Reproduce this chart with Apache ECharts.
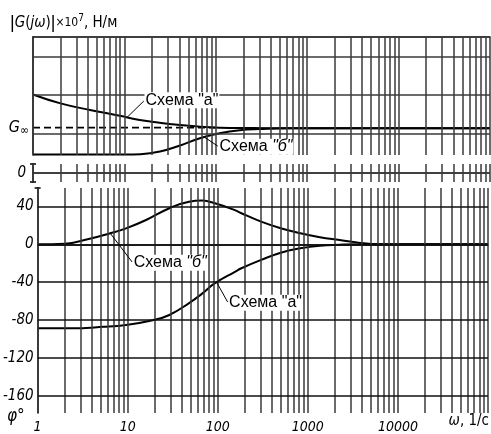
<!DOCTYPE html>
<html>
<head>
<meta charset="utf-8">
<script src="https://cdn.jsdelivr.net/npm/echarts@6/dist/echarts.min.js"></script>
<style>
  html, body { margin: 0; padding: 0; background: #fff; }
  #chart { width: 491px; height: 434px; }
</style>
</head>
<body>
<div id="chart"></div>
<script>
// |G(jw)| (grid units, G_inf ~ 1.165)
const omegaMagA = [1, 2, 4.2, 8.9, 14.7, 31, 67, 110, 250, 600, 100000]
const magA = [2.02, 1.79, 1.62, 1.47, 1.36, 1.26, 1.19, 1.165, 1.155, 1.15, 1.15]
const omegaMagB = [1, 10, 15, 24.5, 40, 67, 110, 183, 303, 600, 100000]
const magB = [0.47, 0.47, 0.48, 0.55, 0.7, 0.89, 1.02, 1.1, 1.13, 1.15, 1.15]
const gInf = 1.165

// phase, degrees
const omegaPhA = [1, 2.35, 5.4, 9.6, 19, 29, 48, 67, 93, 155, 183, 303, 500, 822, 1360, 2250, 4000, 100000]
const phA = [-88.5, -88.5, -87, -85, -80, -74.5, -62, -52, -41, -29, -25.3, -16.5, -8.9, -4.3, -1.5, -0.5, 0, 0]
const omegaPhB = [1, 2, 3.5, 6.4, 9.6, 16, 29, 48, 67, 93, 155, 183, 303, 500, 822, 1360, 2250, 3500, 6000, 100000]
const phB = [0, 0.6, 5, 11.6, 16.8, 25.6, 38, 44.9, 46, 43.2, 36, 32.7, 23.8, 16.8, 11.6, 7.4, 4.5, 2, 0, 0]

const xTicks = [1, 10, 100, 1000, 10000]
const magTicks = [1, 2, 3]
const phaseTicks = [40, 0, -40, -80, -120, -160]

const pairs = (xs, ys) => xs.map((x, i) => [x, ys[i]])

// log grid: 1..9 in every decade
const vLines = []
for (let d = 1; d <= 10000; d *= 10) for (let k = 1; k < 10; k++) vLines.push(k * d)
vLines.push(100000)

const tickFont = '"Liberation Sans Narrow", "DejaVu Sans Condensed", sans-serif'
const textFont = '"Liberation Sans", Arial, sans-serif'
const gridColor = '#3a3a3a'

const vGrid = vLines.map(v => ({ xAxis: v }))
const gridMark = extra => ({
  silent: true,
  symbol: 'none',
  animation: false,
  label: { show: false },
  lineStyle: { color: gridColor, width: 1.5, type: 'solid' },
  data: vGrid.concat(extra),
})

const leader = (from, to, text) => ({
  silent: true,
  symbol: 'none',
  animation: false,
  lineStyle: { color: '#000', width: 1, type: 'solid' },
  label: {
    show: true,
    position: 'end',
    distance: 1,
    align: 'left',
    verticalAlign: 'middle',
    formatter: text,
    color: '#000',
    fontSize: 16,
    fontFamily: textFont,
    backgroundColor: '#fff',
    padding: [0, 1],
    rich: { i: { fontStyle: 'italic', fontSize: 16, fontFamily: textFont, color: '#000' } },
  },
  data: [[{ coord: from }, { coord: to }]],
})

const curve = (xi, data, mark) => ({
  type: 'line',
  xAxisIndex: xi,
  yAxisIndex: xi,
  data: data,
  smooth: 0.45,
  showSymbol: false,
  symbol: 'none',
  z: 3,
  lineStyle: { color: '#000', width: 2 },
  markLine: mark,
})

const xBase = {
  type: 'log',
  logBase: 10,
  min: 1,
  max: 100000,
  splitLine: { show: false },
  axisTick: { show: false },
  axisLabel: { show: false },
  axisLine: { show: false },
}

const yLabel = { color: '#000', fontSize: 15, fontStyle: 'italic', fontFamily: tickFont, margin: 4 }

const chart = echarts.init(document.getElementById('chart'))
chart.setOption({
  animation: false,
  backgroundColor: '#fff',
  grid: [
    { left: 33, right: 1, top: 37, height: 118 },
    { left: 33, right: 1, top: 164, height: 18 },
    { left: 33, right: 1, top: 188, height: 225 },
  ],
  xAxis: [
    { ...xBase, gridIndex: 0, position: 'top', axisLine: { show: true, lineStyle: { color: '#000', width: 1.5 } } },
    { ...xBase, gridIndex: 1 },
    {
      ...xBase,
      gridIndex: 2,
      position: 'bottom',
      axisLine: { show: true, lineStyle: { color: '#000', width: 1.5 } },
      axisLabel: {
        show: true,
        color: '#000',
        fontSize: 14,
        fontStyle: 'italic',
        fontFamily: tickFont,
        margin: 7,
        formatter: v => (xTicks.includes(Math.round(v)) ? String(Math.round(v)) : ''),
      },
    },
  ],
  yAxis: [
    {
      gridIndex: 0, type: 'value', min: 0.46, max: 3.5,
      splitLine: { show: false }, axisTick: { show: false },
      axisLine: { show: true, lineStyle: { color: '#000', width: 1.5 } },
      axisLabel: {
        ...yLabel,
        customValues: [gInf],
        formatter: () => '{g|G}{s|∞}',
        rich: {
          g: { fontSize: 16, fontStyle: 'italic', fontFamily: tickFont, color: '#000' },
          s: { fontSize: 12, fontStyle: 'italic', fontFamily: tickFont, color: '#000', padding: [6, 0, 0, 0] },
        },
      },
    },
    {
      gridIndex: 1, type: 'value', min: -1, max: 1,
      splitLine: { show: false }, axisTick: { show: false },
      axisLine: { show: true, symbol: ['rect', 'rect'], symbolSize: [6, 1.5], lineStyle: { color: '#000', width: 1.5 } },
      axisLabel: { ...yLabel, margin: 7, customValues: [0], formatter: () => '0' },
    },
    {
      gridIndex: 2, type: 'value', min: -177.8, max: 59.3,
      splitLine: { show: false }, axisTick: { show: false },
      axisLine: { show: true, symbol: ['none', 'rect'], symbolSize: [6, 1.5], lineStyle: { color: '#000', width: 1.5 } },
      axisLabel: { ...yLabel, customValues: phaseTicks, formatter: v => String(v) },
    },
  ],
  graphic: [
    {
      type: 'text', left: 10, top: 13,
      style: {
        text: '{b||}{i|G}{n|(}{i|jω}{n|)}{b||}{s|×10}{p|7}{n|, Н/м}',
        fill: '#000',
        rich: {
          b: { fontSize: 18, fontFamily: textFont, fill: '#000' },
          i: { fontSize: 15, fontStyle: 'italic', fontFamily: tickFont, fill: '#000' },
          n: { fontSize: 15, fontFamily: tickFont, fill: '#000' },
          s: { fontSize: 12, fontFamily: tickFont, fill: '#000' },
          p: { fontSize: 10, fontFamily: tickFont, fill: '#000', verticalAlign: 'top', padding: [0, 0, 10, 0] },
        },
      },
    },
    {
      type: 'text', left: 7, top: 408,
      style: { text: 'φ°', fill: '#000', font: 'italic 17px ' + tickFont },
    },
    {
      type: 'text', right: 2, top: 414,
      style: {
        text: '{i|ω}{n|, 1/c}',
        fill: '#000',
        rich: {
          i: { fontSize: 15, fontStyle: 'italic', fontFamily: tickFont, fill: '#000' },
          n: { fontSize: 15, fontFamily: tickFont, fill: '#000' },
        },
      },
    },
  ],
  series: [
    { type: 'line', xAxisIndex: 0, yAxisIndex: 0, data: [], markLine: gridMark(magTicks.map(v => ({ yAxis: v }))) },
    {
      type: 'line', xAxisIndex: 1, yAxisIndex: 1, symbol: 'none',
      data: [[1, 0], [100000, 0]],
      lineStyle: { color: '#000', width: 1.5 },
      markLine: gridMark([]),
    },
    {
      type: 'line', xAxisIndex: 2, yAxisIndex: 2, data: [],
      markLine: gridMark(phaseTicks.map(v => ({ yAxis: v, lineStyle: { color: '#111', width: 1.5 } }))),
    },
    {
      type: 'line', xAxisIndex: 0, yAxisIndex: 0, symbol: 'none', z: 3,
      data: [[1, gInf], [110, gInf]],
      lineStyle: { color: '#000', width: 1.8, type: [7, 4] },
    },
    curve(0, pairs(omegaMagA, magA), leader([10.7, 1.43], [16.3, 1.85], 'Схема "а"')),
    curve(0, pairs(omegaMagB, magB), leader([75, 0.92], [105, 0.69], 'Схема {i|"б"}')),
    curve(2, pairs(omegaPhB, phB), leader([6.4, 11.6], [11.2, -18.7], 'Схема {i|"б"}')),
    curve(2, pairs(omegaPhA, phA), leader([97, -40], [128.6, -60.8], 'Схема "а"')),
  ],
})
</script>
</body>
</html>
